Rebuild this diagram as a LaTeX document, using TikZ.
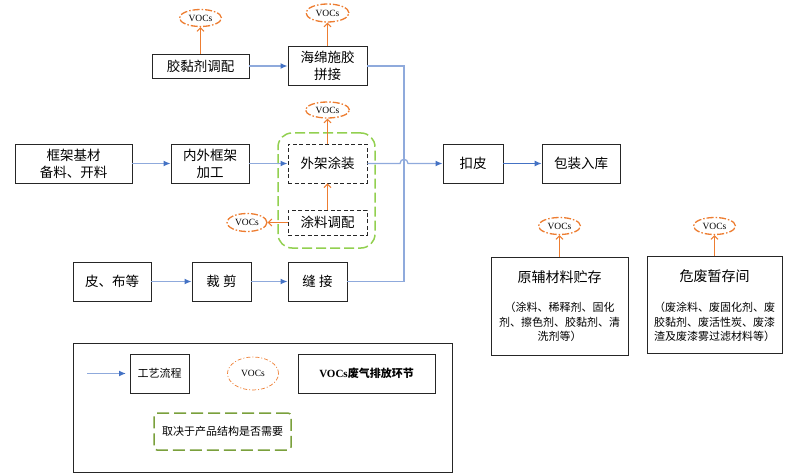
\documentclass[tikz,border=0pt]{standalone}
\usepackage{fontspec}
\setmainfont{Noto Sans CJK SC}
\newfontfamily\vocfont{Liberation Serif}
\usetikzlibrary{arrows.meta,shapes.geometric}
\definecolor{flowblue}{RGB}{143,170,220}
\definecolor{tipblue}{RGB}{68,114,196}
\definecolor{vocorange}{RGB}{237,125,49}
\definecolor{optgreen}{RGB}{146,208,80}
\definecolor{leggreen}{RGB}{122,160,60}
\tikzset{
  box/.style={draw=black!85, line width=0.9pt, inner sep=0pt, align=center,
    font=\fontsize{13.5}{17}\selectfont},
  dbox/.style={box, dash pattern=on 4pt off 2.5pt},
  voc/.style={shape=ellipse, draw=vocorange, line width=1.3pt, inner sep=0pt,
    dash pattern=on 7pt off 2pt on 1.5pt off 2pt,
    minimum width=42pt, minimum height=17pt,
    font=\vocfont\fontsize{9.5}{10}\selectfont},
  legvoc/.style={voc, line width=0.7pt, dash pattern=on 4pt off 2pt on 1pt off 2pt,
    minimum width=51pt, minimum height=33pt},
  flow/.style={draw=flowblue, line width=1.3pt,
    -{Latex[length=7pt,width=6pt,color=tipblue]}},
  flowline/.style={draw=flowblue, line width=1.3pt},
  emit/.style={draw=vocorange, line width=1pt,
    -{Straight Barb[length=3.5pt,width=7pt]}},
  grp/.style={draw=optgreen, line width=1.5pt, rounded corners=14pt,
    dash pattern=on 10pt off 4pt, inner sep=0pt},
  leggrp/.style={draw=leggreen, line width=1.5pt, rounded corners=3pt,
    dash pattern=on 12pt off 5pt, inner sep=0pt,
    font=\fontsize{11}{14}\selectfont},
  legbox/.style={box, font=\fontsize{11}{14}\selectfont},
  small/.style={inner sep=0pt, align=center, font=\fontsize{11}{14.5}\selectfont},
  ttl/.style={inner sep=0pt, font=\fontsize{14}{17}\selectfont}
}
\begin{document}
\begin{tikzpicture}[x=1pt,y=-1pt]
\useasboundingbox (0,0) rectangle (787,476);

% optional group (behind)
\node[grp, minimum width=97pt, minimum height=115pt] (grp) at (326.5,190.5) {};

% process boxes
\node[box, minimum width=97pt, minimum height=24pt] (gl) at (200.5,66) {胶黏剂调配};
\node[box, minimum width=79pt, minimum height=39pt] (hm) at (327.5,66) {海绵施胶\\拼接};
\node[box, minimum width=117pt, minimum height=39pt] (kj) at (73.5,163.5) {框架基材\\备料、开料};
\node[box, minimum width=78pt, minimum height=39pt] (nw) at (210,163.5) {内外框架\\加工};
\node[dbox, fill=white, minimum width=79pt, minimum height=39pt] (wj) at (327.5,163.5) {外架涂装};
\node[dbox, fill=white, minimum width=79pt, minimum height=25pt] (tl) at (327.5,222.5) {涂料调配};
\node[box, minimum width=78pt, minimum height=39pt] (pb) at (112,281.5) {皮、布等};
\node[box, minimum width=59pt, minimum height=39pt] (cj) at (221.5,281.5) {裁 剪};
\node[box, minimum width=59pt, minimum height=39pt] (fj) at (317.5,281.5) {缝 接};
\node[box, minimum width=60pt, minimum height=39pt] (kp) at (473,163.5) {扣皮};
\node[box, minimum width=78pt, minimum height=39pt] (bz) at (581,163.5) {包装入库};

% storage boxes
\node[box, minimum width=137pt, minimum height=98pt] (yf) at (559.5,306) {};
\node[ttl] (yft) at (559.5,277) {原辅材料贮存};
\node[small] (yfd) at (559.5,322) {（涂料、稀释剂、固化\\剂、擦色剂、胶黏剂、清\\洗剂等）};
\node[box, minimum width=135pt, minimum height=97pt] (wf) at (714.5,304.5) {};
\node[ttl] (wft) at (714.5,276) {危废暂存间};
\node[small] (wfd) at (714.5,322) {（废涂料、废固化剂、废\\胶黏剂、废活性炭、废漆\\渣及废漆雾过滤材料等）};

% VOCs ellipses
\node[voc] (v1) at (200.5,18) {VOCs};
\node[voc, minimum width=43pt, minimum height=18pt] (v2) at (327.5,13) {VOCs};
\node[voc, minimum width=44pt, minimum height=16pt] (v3) at (327.5,110) {VOCs};
\node[voc, minimum width=40pt, minimum height=18pt] (v4) at (247,222.5) {VOCs};
\node[voc] (v5) at (559.5,226) {VOCs};
\node[voc] (v6) at (714.5,226) {VOCs};

% flow connectors
\coordinate (j1) at (404,66);
\coordinate (j2) at (404,281.5);
\coordinate (h1) at (400,163.5);
\coordinate (h2) at (408,163.5);
\draw[flow] (gl.east) -- (gl.east -| hm.west);
\draw[flow] (kj) -- (nw);
\draw[flow] (nw) -- (wj);
\draw[flow] (pb) -- (cj);
\draw[flow] (cj) -- (fj);
\draw[flowline] (hm.east) -- (j1) -- (j2) -- (fj.east);
\draw[flow] (wj.east) -- (h1) .. controls +(0,-5.5) and +(0,-5.5) .. (h2) -- (kp.west);
\draw[flow, draw=tipblue, line width=1pt] (kp) -- (bz);

% emission arrows
\draw[emit] (gl.north) -- (v1.south);
\draw[emit] (hm.north) -- (v2.south);
\draw[emit] (wj.north) -- (v3.south);
\draw[emit] (tl.north) -- (wj.south);
\draw[emit] (tl.west) -- (v4.east);
\draw[emit] (yf.north) -- (v5.south);
\draw[emit] (wf.north) -- (v6.south);

% legend
\node[box, minimum width=379pt, minimum height=129pt] (leg) at (262.5,407.5) {};
\coordinate (la1) at (87,373.5);
\coordinate (la2) at (126,373.5);
\draw[flow] (la1) -- (la2);
\node[legbox, minimum width=59pt, minimum height=39pt] (lg1) at (159.5,373.5) {工艺流程};
\node[legvoc] (lv) at (253,373.5) {VOCs};
\node[legbox, minimum width=137pt, minimum height=39pt] (lg2) at (366.5,373.5) {\bfseries{\vocfont VOCs}废气排放环节};
\node[leggrp, minimum width=137pt, minimum height=37pt] (lg3) at (222.5,431.5) {取决于产品结构是否需要};
\end{tikzpicture}
\end{document}
